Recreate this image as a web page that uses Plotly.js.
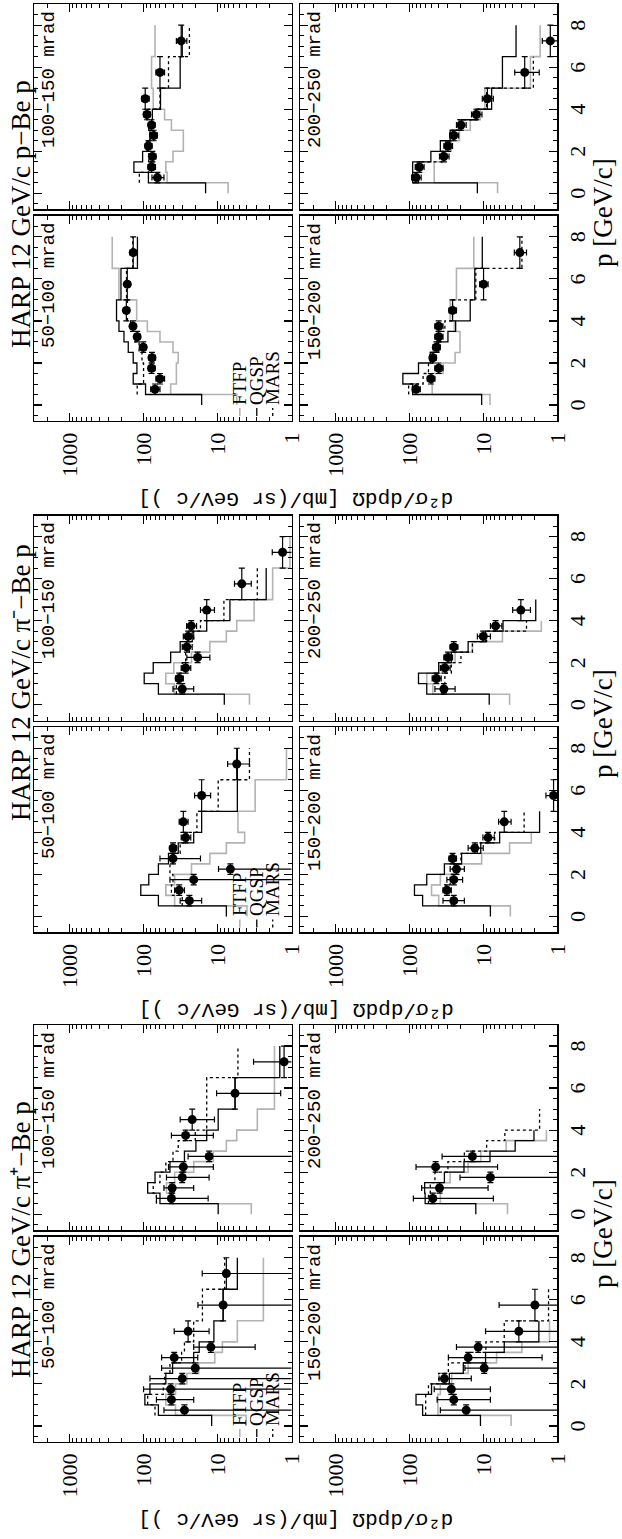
<!DOCTYPE html>
<html><head><meta charset="utf-8">
<script src="https://cdn.plot.ly/plotly-3.0.1.min.js"></script>
<style>
html,body{margin:0;padding:0;background:#fff;}
#wrap{position:relative;width:622px;height:1539px;overflow:hidden;background:#fff;}
#plot{position:absolute;left:0;top:0;width:1539px;height:622px;transform-origin:0 0;transform:translate(0px,1539px) rotate(-90deg);}
</style></head><body><div id="wrap"><div id="plot"></div></div>
<script>
// ---------------- data ----------------
const binEdges   = [0, 0.5, 1, 1.5, 2, 2.5, 3, 3.5, 4, 5, 6.5, 8];
const pCenters   = [0.75, 1.25, 1.75, 2.25, 2.75, 3.25, 3.75, 4.5, 5.75, 7.25];
const pHalfWidth = [0.25, 0.25, 0.25, 0.25, 0.25, 0.25, 0.25, 0.5, 0.75, 0.75];
const groupTitles = ['HARP 12 GeV/c π⁺−Be p', 'HARP 12 GeV/c π⁻−Be p', 'HARP 12 GeV/c p−Be p'];
const angleLabels = ['50−100 mrad', '100−150 mrad', '150−200 mrad', '200−250 mrad'];
const modelNames  = ['FTFP', 'QGSP', 'MARS'];
const xLabel = 'p [GeV/c]';
const yLabel = 'd²σ/dpdΩ [mb/(sr GeV/c )]';
const yTickVals = [1, 10, 100, 1000];
const yTickText = ['1', '10', '100', '1000'];
const xTickVals = [0, 2, 4, 6, 8];

// pi+ - Be -> p
const pip50Data  = [28, 42, 43, 30, 20, 38.5, 12.3, 25, 8.4, 7.6];
const pip50ErrUp = [25, 25, 57, 52, 37, 18.5, 8.7, 13.5, 10, 8.5];
const pip50ErrDn = [56, 21, 86, 60, 40, 20, 9.2, 12, 17, 15];
const pip50Ftfp  = [4.1, 37, 50, 37, 26, 18, 10.9, 8.6, 5.4, 2.4, 2.4];
const pip50Qgsp  = [12, 63, 96, 82, 50, 40.5, 21, 17.7, 11.2, 8.4, 5.4];
const pip50Mars  = [null, 70, 88, 54, 52, 44, 30.6, 28, 21, 16, 8];

const pip100Data  = [42, 41, 30, 29, 13, null, 27, 22, 5.8, 1.26];
const pip100ErrUp = [25, 12, 19, 17, 12, null, 15, 10, 4.5, 2];
const pip100ErrDn = [28.6, 20, 17, 17.6, 26, null, 15.6, 11, 4.4, 2.5];
const pip100Ftfp  = [3.5, 40, 49, 38, 21, 11.4, 7.6, 5.5, 2.9, 1.7, 1.7];
const pip100Qgsp  = [9.8, 60, 88, 70, 44, 28, 19.6, 14, 9.8, 5.8, 1.44];
const pip100Mars  = [null, 67, 74, 60, 50, 40, 34, 20, 14, 14, 5.3];

const pip150Data  = [17, 25, 27, 33.5, 9.7, 16, 11.7, 3.3, 2.0, null];
const pip150ErrUp = [21, 17, 19, 6, 8, 13.6, 11.3, 6, 4.1, null];
const pip150ErrDn = [34, 17, 19, 19, 20, 14.4, 24, 7, 4, null];
const pip150Ftfp  = [4.2, 41, 41, 38, 26.7, 16, 6.6, 3.0, 1.27, null, null];
const pip150Qgsp  = [10.9, 66, 81, 50, 28.7, 18.6, 9.3, 5.2, 1.77, null, null];
const pip150Mars  = [null, 60, 60, 55, 40, 29.6, 16, 9.2, 5.2, 1.31, null];

const pip200Data  = [48, 39, 8, 44, 14, null, null, null, null, null];
const pip200ErrUp = [40, 29, 12.6, 37, 22, null, null, null, null, null];
const pip200ErrDn = [40.7, 30.4, 16, 37.6, 28, null, null, null, null, null];
const pip200Ftfp  = [4.7, 38, 38, 28, 16, 10.8, 4.9, 1.4, null, null, null];
const pip200Qgsp  = [12.6, 61, 62, 33.5, 18.2, 8.1, 3.7, 2.06, null, null, null];
const pip200Mars  = [null, 55, 52, 45, 30, 18, 9, 5.1, 1.73, null, null];

// pi- - Be -> p
const pim50Data  = [24, 33, 21, 6.7, 40, 40, 27, 29, 16.4, 5.5];
const pim50ErrUp = [8, 5, 23, 3, 20, 4, 4, 4, 4, 1.8];
const pim50ErrDn = [7.6, 5, 42, 13, 23, 4, 4, 4, 4, 1.8];
const pim50Ftfp  = [4, 38, 50, 38, 22.5, 12.7, 7.6, 4.3, 5.3, 3.1, 1.17];
const pim50Qgsp  = [7.6, 63, 109, 85, 63, 46, 34, 21, 16.4, 5.4, 5.4];
const pim50Mars  = [null, 30, 42, 40, 44, 40, 32, 26, 19, 9.8, 3.7];

const pim100Data  = [30, 33, 27, 18.6, 26, 25, 22.7, 14, 4.7, 1.32];
const pim100ErrUp = [10, 4, 4, 7.4, 4, 4, 3.5, 3, 1.2, 0.5];
const pim100ErrDn = [9, 4, 4, 5.9, 4, 4, 3.5, 3, 1.2, 0.4];
const pim100Ftfp  = [3.7, 38.5, 50, 39, 22.5, 12.7, 7.6, 5.5, 3.2, 1.8, 1.05];
const pim100Qgsp  = [8.1, 63, 98, 74, 43, 32, 22, 14, 6.8, 2.2, null];
const pim100Mars  = [null, 36, 34, 30, 27, 24, 21, 17, 8.2, 2.9, null];

const pim150Data  = [25, 31, 25, 23, 26, 13, 8.6, 5.2, 1.12, null];
const pim150ErrUp = [10, 4, 6, 5, 3, 3, 1.5, 1, 0.3, null];
const pim150ErrDn = [7, 4, 6, 5, 3, 3, 1.5, 1, 0.3, null];
const pim150Ftfp  = [4.3, 40, 50, 38, 22, 10.5, 4.4, 2.24, null, null, null];
const pim150Qgsp  = [8, 66, 85, 58, 33.5, 19.6, 10.8, 6, 1.73, null, null];
const pim150Mars  = [null, 27, 32, 28, 25, 20, 12, 7, 2.8, null, null];

const pim200Data  = [34, 43, 33, 30, 25, 10, 6.8, 3.1, null, null];
const pim200ErrUp = [11, 6, 5, 4, 3, 2, 1.2, 0.9, null, null];
const pim200ErrDn = [10, 6, 5, 4, 3, 2, 1.2, 0.8, null, null];
const pim200Ftfp  = [4.4, 48, 58, 36, 24, 14, 5.5, 1.64, null, null, null];
const pim200Qgsp  = [8.3, 58, 75, 40, 27, 16, 9.3, 5.4, 1.95, null, null];
const pim200Mars  = [null, 36, 33, 27, 20, 14, 9, 2.6, null, null, null];

// p - Be -> p
const prot50Data  = [70, 60, 78, 77, 101, 122, 139, 171, 166, 138];
const prot50Err   = [10, 8, 8, 8, 9, 11, 12, 15, 15, 15];
const prot50Ftfp  = [5.5, 43, 36, 36, 34, 40, 60, 89, 124, 215, 265];
const prot50Qgsp  = [16.4, 94, 138, 123, 138, 161, 184, 215, 232, 202, 121];
const prot50Mars  = [null, 122, 100, 100, 105, 115, 130, 150, 165, 170, 140];

const prot100Data = [65, 78, 76, 86, 73, 78, 90, 95, 60, 31];
const prot100Err  = [12, 9, 8, 9, 8, 8, 9, 11, 8, 5];
const prot100Ftfp = [7.2, 48, 50, 40, 29, 29, 42, 52, 74, 78, 70];
const prot100Qgsp = [14.5, 86, 135, 103, 90, 82, 78, 76, 59, 32, 30];
const prot100Mars = [null, 114, 85, 85, 88, 82, 85, 90, 60, 46, 24];

const prot150Data = [81, 51, 40, 48, 43, 40, 40, 26, 9.9, 3.2];
const prot150Err  = [10, 6, 5, 5, 5, 5, 5, 3, 1.3, 0.6];
const prot150Ftfp = [8.1, 49, 49, 35, 24, 20.6, 20.6, 24.6, 28, 23, 13.4];
const prot150Qgsp = [10.5, 90, 122, 75, 52, 40, 30, 23.6, 15, 13, 10.3];
const prot150Mars = [null, 102, 65, 55, 48, 42, 38, 33, 26, 12.6, 3.0];

const prot200Data = [81, 73, 34, 30, 25, 20, 12.4, 8.8, 2.75, 1.24];
const prot200Err  = [12, 10, 5, 4, 3.5, 3, 2, 1.5, 1, 0.35];
const prot200Ftfp = [6.4, 46, 46, 36, 27, 21, 15, 11, 9.5, 2.3, 1.7];
const prot200Qgsp = [12, 90, 90, 51, 38, 28, 19.6, 12.6, 7.7, 5.5, 3.6];
const prot200Mars = [null, 75, 72, 36, 32, 26, 22, 12, 9, 2.1, null];

// ---------------- layout geometry (original landscape page) ----------------
const W = 1539, H = 622;
const groupLeft = [97.3, 606.8, 1118.2];
const panelW = 205, colStep = 211.7;
const rowTop = [34.3, 300], panelH = 257.2;
const FTFP_COLOR = '#b3b3b3';

const panels = [
  {g:0,row:0,col:0,a:0,d:pip50Data,up:pip50ErrUp,dn:pip50ErrDn,f:pip50Ftfp,q:pip50Qgsp,m:pip50Mars},
  {g:0,row:0,col:1,a:1,d:pip100Data,up:pip100ErrUp,dn:pip100ErrDn,f:pip100Ftfp,q:pip100Qgsp,m:pip100Mars},
  {g:0,row:1,col:0,a:2,d:pip150Data,up:pip150ErrUp,dn:pip150ErrDn,f:pip150Ftfp,q:pip150Qgsp,m:pip150Mars},
  {g:0,row:1,col:1,a:3,d:pip200Data,up:pip200ErrUp,dn:pip200ErrDn,f:pip200Ftfp,q:pip200Qgsp,m:pip200Mars},
  {g:1,row:0,col:0,a:0,d:pim50Data,up:pim50ErrUp,dn:pim50ErrDn,f:pim50Ftfp,q:pim50Qgsp,m:pim50Mars},
  {g:1,row:0,col:1,a:1,d:pim100Data,up:pim100ErrUp,dn:pim100ErrDn,f:pim100Ftfp,q:pim100Qgsp,m:pim100Mars},
  {g:1,row:1,col:0,a:2,d:pim150Data,up:pim150ErrUp,dn:pim150ErrDn,f:pim150Ftfp,q:pim150Qgsp,m:pim150Mars},
  {g:1,row:1,col:1,a:3,d:pim200Data,up:pim200ErrUp,dn:pim200ErrDn,f:pim200Ftfp,q:pim200Qgsp,m:pim200Mars},
  {g:2,row:0,col:0,a:0,d:prot50Data,up:prot50Err,dn:prot50Err,f:prot50Ftfp,q:prot50Qgsp,m:prot50Mars},
  {g:2,row:0,col:1,a:1,d:prot100Data,up:prot100Err,dn:prot100Err,f:prot100Ftfp,q:prot100Qgsp,m:prot100Mars},
  {g:2,row:1,col:0,a:2,d:prot150Data,up:prot150Err,dn:prot150Err,f:prot150Ftfp,q:prot150Qgsp,m:prot150Mars},
  {g:2,row:1,col:1,a:3,d:prot200Data,up:prot200Err,dn:prot200Err,f:prot200Ftfp,q:prot200Qgsp,m:prot200Mars}
];

function stepXY(vals){
  const xs = [], ys = [];
  let started = false;
  for (let i = 0; i < vals.length; i++){
    const v = vals[i];
    if (v == null){
      if (started){ xs.push(binEdges[i]); ys.push(ys[ys.length-1]); xs.push(null); ys.push(null); started = false; }
      continue;
    }
    xs.push(binEdges[i]); ys.push(v); started = true;
  }
  if (started){ xs.push(binEdges[vals.length]); ys.push(ys[ys.length-1]); }
  return {xs, ys};
}

const serif = 'Liberation Serif, Times New Roman, serif';
const mono = 'Liberation Mono, Courier New, monospace';
const traces = [];
const layout = {
  width: W, height: H, margin:{l:0,r:0,t:0,b:0},
  paper_bgcolor:'#fff', plot_bgcolor:'#fff', showlegend:false,
  annotations:[], shapes:[]
};
const minorY = [];
[1,10,100,1000].forEach(dec => { for (let k=2;k<=9;k++){ if (dec*k <= 3000) minorY.push(dec*k); } });

panels.forEach((P, idx) => {
  const n = idx + 1;
  const xs = n === 1 ? 'x' : 'x' + n, ys = n === 1 ? 'y' : 'y' + n;
  const left = groupLeft[P.g] + P.col * colStep;
  const top = rowTop[P.row];
  layout['xaxis' + (n === 1 ? '' : n)] = {
    domain:[left/W, (left+panelW)/W], anchor: ys, range:[-0.75, 9],
    showline:true, linecolor:'black', linewidth:1.5, mirror:'allticks',
    ticks:'inside', ticklen:8, tickwidth:1.2, tickcolor:'black',
    tickvals:xTickVals, ticktext:xTickVals.map(String),
    showticklabels: P.row === 1, showgrid:false, zeroline:false,
    minor:{ticks:'inside', ticklen:4, tickwidth:1, tickcolor:'black', dtick:0.5, tick0:0, showgrid:false},
    tickfont:{family:serif, size:22, color:'black'}
  };
  layout['yaxis' + (n === 1 ? '' : n)] = {
    domain:[1-(top+panelH)/H, 1-top/H], anchor: xs, type:'log', range:[0, Math.log10(3000)],
    showline:true, linecolor:'black', linewidth:1.5, mirror:'allticks',
    ticks:'inside', ticklen:8, tickwidth:1.2, tickcolor:'black',
    tickvals:yTickVals, ticktext:yTickText, showticklabels: P.col === 0,
    showgrid:false, zeroline:false, ticklabelstandoff:6,
    minor:{ticks:'inside', ticklen:4, tickwidth:1, tickcolor:'black', tickvals:minorY, showgrid:false},
    tickfont:{family:serif, size:22, color:'black'}
  };
  const f = stepXY(P.f), q = stepXY(P.q), m = stepXY(P.m);
  traces.push({x:f.xs, y:f.ys, xaxis:xs, yaxis:ys, mode:'lines', line:{shape:'hv', color:FTFP_COLOR, width:1.6}, name:modelNames[0], connectgaps:false});
  traces.push({x:q.xs, y:q.ys, xaxis:xs, yaxis:ys, mode:'lines', line:{shape:'hv', color:'black', width:1.3}, name:modelNames[1], connectgaps:false});
  traces.push({x:m.xs, y:m.ys, xaxis:xs, yaxis:ys, mode:'lines', line:{shape:'hv', color:'black', width:1.3, dash:'dot'}, name:modelNames[2], connectgaps:false});
  traces.push({x:pCenters, y:P.d, xaxis:xs, yaxis:ys, mode:'markers', name:'data',
    marker:{color:'black', size:9},
    error_y:{type:'data', symmetric:false, array:P.up, arrayminus:P.dn, color:'black', thickness:1.2, width:3},
    error_x:{type:'data', array:pHalfWidth, color:'black', thickness:1.2, width:3}});
  const xd = (n === 1 ? 'x' : 'x' + n) + ' domain', yd = (n === 1 ? 'y' : 'y' + n) + ' domain';
  layout.annotations.push({text:angleLabels[P.a], xref:xd, yref:yd, x:1, y:1, xanchor:'right', yanchor:'middle',
    xshift:-5, yshift:-15, showarrow:false, font:{family:mono, size:19, color:'black'}});
  if (P.row === 0 && P.col === 0){
    const yFr = [0.201, 0.135, 0.073];
    const styles = [{color:FTFP_COLOR, width:1.6}, {color:'black', width:1.3}, {color:'black', width:1.3, dash:'dot'}];
    for (let k = 0; k < 3; k++){
      layout.shapes.push({type:'line', xref:xd, yref:yd, x0:0.023, x1:0.062, y0:yFr[k], y1:yFr[k], line:styles[k]});
      layout.annotations.push({text:modelNames[k], xref:xd, yref:yd, x:0.067, y:yFr[k], xanchor:'left', yanchor:'middle',
        showarrow:false, font:{family:serif, size:19, color:'black'}});
    }
  }
});

// group titles and axis labels
const titleStart = [159, 716, 1189];
for (let g = 0; g < 3; g++){
  layout.annotations.push({text:groupTitles[g], xref:'paper', yref:'paper', x:titleStart[g]/W, y:1-21/H,
    xanchor:'left', yanchor:'middle', showarrow:false, font:{family:serif, size:27, color:'black'}});
  const gc = groupLeft[g] + (colStep + panelW)/2;
  layout.annotations.push({text:xLabel, xref:'paper', yref:'paper', x:gc/W, y:1-603/H,
    xanchor:'center', yanchor:'middle', showarrow:false, font:{family:serif, size:27, color:'black'}});
  layout.annotations.push({text:yLabel, xref:'paper', yref:'paper',
    x:(groupLeft[g]-78)/W, y:1-296/H, xanchor:'center', yanchor:'middle', textangle:-90,
    showarrow:false, font:{family:mono, size:21, color:'black'}});
}

Plotly.newPlot('plot', traces, layout, {staticPlot:true, displayModeBar:false});
</script></body></html>
